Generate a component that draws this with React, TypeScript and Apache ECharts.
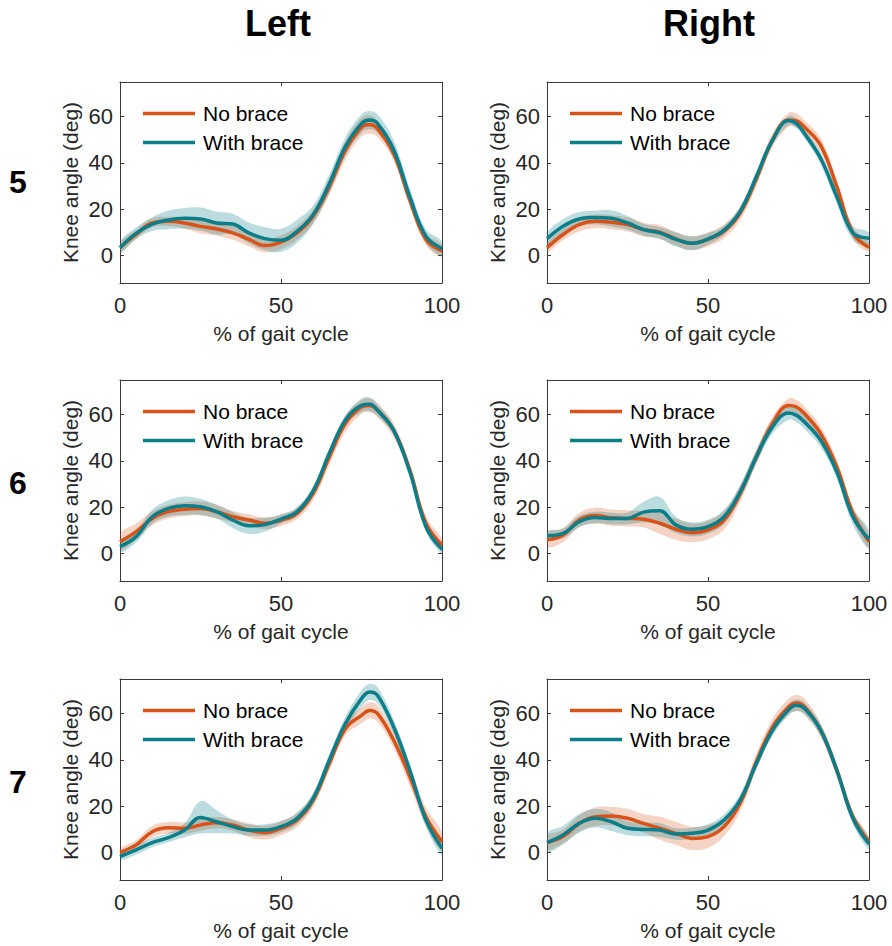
import React, { useEffect, useRef } from 'react';
import * as echarts from 'echarts';

// % of gait cycle sample points
const X = [0, 5, 10, 15, 20, 25, 30, 35, 40, 45, 50, 55, 60, 65, 70, 75, 77.5, 80, 85, 90, 95, 100];
const X_TICKS = [0, 50, 100];
const Y_TICKS = [0, 20, 40, 60];
const COLUMN_TITLES = ['Left', 'Right'];
const ROW_LABELS = ['5', '6', '7'];
const SERIES_NAMES = ['No brace', 'With brace'];

// Subject 5
const L5_NO = [3.3, 9, 14, 14.7, 14, 12.5, 11.4, 9.7, 6.9, 4.2, 5.7, 9.7, 16.9, 29.7, 45.4, 55.4, 56.6, 54.7, 44, 24, 6.9, 1.9];
const L5_NO_SD = [2, 2, 2, 2, 2.5, 3, 3, 3, 3, 3, 3, 3, 3, 3.5, 4, 4, 4, 3.5, 3, 3, 2.5, 2.5];
const L5_WB = [3.3, 9.5, 13.5, 15.3, 16, 15.7, 14, 13.5, 9.7, 7.2, 6.5, 10.4, 17.6, 31, 47, 57, 58.5, 57, 45.7, 25.4, 8.3, 2.9];
const L5_WB_SD = [2.5, 2.5, 3, 4, 4.5, 5, 5, 4.5, 4.5, 5, 5, 5, 4, 4, 4, 4, 4, 4, 4, 3.5, 3, 3];
const R5_NO = [3.3, 9, 13.3, 14.7, 14.3, 13.3, 11.1, 10, 7.1, 5.2, 6.9, 10.4, 18.3, 33, 49.7, 58.6, 58.3, 55.4, 47.6, 29.7, 9.7, 3.4];
const R5_NO_SD = [2, 2.5, 3, 3, 3, 3, 3, 3, 3, 3, 3, 3, 3, 3, 3, 3, 3, 3, 3, 3, 2.5, 2];
const R5_WB = [7.2, 12.6, 15.7, 16.3, 16, 14, 11.1, 9.7, 6.9, 5.2, 7.1, 10.9, 19, 34, 49.7, 58.3, 57, 52.6, 41.9, 25.4, 9.7, 7.4];
const R5_WB_SD = [2.5, 3, 3, 3, 3.5, 3, 2.5, 2.5, 3, 3, 2.5, 2, 2, 2, 2, 2, 2, 2, 2.5, 3, 3, 2.5];

// Subject 6
const L6_NO = [5, 9.4, 15.1, 18, 19.1, 19.4, 18, 15.8, 14.4, 13, 14.3, 17.3, 25.9, 41.7, 56.1, 63.3, 64, 61.9, 53.2, 36, 13, 3.6];
const L6_NO_SD = [3.5, 3.5, 3, 3, 3, 3, 3, 2.5, 2.5, 2.5, 2.5, 2.5, 3, 3.5, 3.5, 3, 3, 3, 3, 3, 3, 2.5];
const L6_WB = [2.9, 7.2, 15.8, 19.4, 20.6, 20.1, 18, 14.4, 11.9, 12.4, 14.8, 18, 27, 43.2, 57.6, 64, 64.5, 61.9, 53.2, 35.3, 11.5, 1.7];
const L6_WB_SD = [2.5, 2.5, 3, 3.5, 4, 3.5, 3, 3.5, 3.5, 3, 2, 2, 2, 2, 2, 3, 3, 2.5, 2, 2, 2, 2];
const R6_NO = [5.8, 7.9, 14.4, 16.3, 15.4, 15.1, 14.7, 13, 10.4, 8.9, 10.1, 14.4, 25.9, 41.7, 56.1, 64, 63.3, 60.4, 51.8, 37.4, 17.3, 5];
const R6_NO_SD = [3, 3, 3, 3.5, 3.5, 3.5, 3.5, 4.5, 4.5, 4, 4, 4, 3.5, 3, 3, 3, 3, 3, 3, 3, 3, 3];
const R6_WB = [7.6, 8.6, 13.7, 15.5, 15, 15.1, 17.8, 18.4, 12.3, 10.4, 11.5, 15.8, 26.6, 41.7, 54.7, 60.7, 59.7, 56.8, 48.9, 35.3, 15.8, 6];
const R6_WB_SD = [2, 2, 2.5, 2.5, 2.5, 2.5, 4.5, 6, 3.5, 3, 3, 3, 3, 3, 3, 3, 3, 3, 3, 3, 3.5, 4];

// Subject 7
const L7_NO = [0, 3.2, 8.9, 10.6, 10.4, 11.8, 12.8, 11.8, 9.6, 8.5, 10.4, 14, 22.6, 38.4, 53.5, 59.3, 61.4, 60, 48.5, 32.7, 15.4, 4.6];
const L7_NO_SD = [1.5, 2, 2.5, 2.5, 2.5, 2.5, 2.5, 2.5, 3, 3, 3, 3, 3, 3, 3, 3.5, 3.5, 3.5, 3.5, 4, 4, 4];
const L7_WB = [-1.9, 1, 4.2, 6.3, 9.5, 15.1, 13.2, 11.1, 9.6, 9.6, 11.1, 14.7, 23.3, 39.9, 55.7, 66.5, 69.4, 67.9, 54.2, 35.5, 14, 1.7];
const L7_WB_SD = [1.5, 2, 2, 2, 3, 7, 5, 3, 2.5, 2.5, 2.5, 2.5, 2.5, 2.5, 3, 3.5, 3.5, 3.5, 3, 3, 3, 3];
const R7_NO = [4.2, 6.8, 12.5, 15.4, 15.7, 14.7, 12.5, 10.4, 8.2, 6, 6.8, 11.1, 21.2, 39.1, 54.2, 62.9, 64.6, 62.9, 52.8, 35.5, 15.4, 4.6];
const R7_NO_SD = [3, 3, 3.5, 4, 4, 4, 4, 5, 5, 5, 5, 4, 3.5, 3.5, 3.5, 3.5, 3.5, 3.5, 3, 3, 2.5, 2];
const R7_WB = [4.2, 7.5, 12.5, 14.7, 13.2, 10.4, 9.9, 9.6, 7.9, 8.2, 9.6, 14, 22.6, 38.4, 52.8, 61.7, 63.6, 62.2, 52.8, 35.5, 14.7, 3.6];
const R7_WB_SD = [4, 4, 4, 4, 4, 3, 3, 3, 2.5, 2.5, 2.5, 2.5, 2.5, 2.5, 2.5, 2.5, 2.5, 2.5, 2.5, 2.5, 2.5, 2.5];

const PANELS = [
  { row: 0, col: 0, no: L5_NO, noSd: L5_NO_SD, wb: L5_WB, wbSd: L5_WB_SD },
  { row: 0, col: 1, no: R5_NO, noSd: R5_NO_SD, wb: R5_WB, wbSd: R5_WB_SD },
  { row: 1, col: 0, no: L6_NO, noSd: L6_NO_SD, wb: L6_WB, wbSd: L6_WB_SD },
  { row: 1, col: 1, no: R6_NO, noSd: R6_NO_SD, wb: R6_WB, wbSd: R6_WB_SD },
  { row: 2, col: 0, no: L7_NO, noSd: L7_NO_SD, wb: L7_WB, wbSd: L7_WB_SD },
  { row: 2, col: 1, no: R7_NO, noSd: R7_NO_SD, wb: R7_WB, wbSd: R7_WB_SD },
];

const FONT = '"Liberation Sans", Arial, Helvetica, sans-serif';
const ORANGE = '#D95319';
const TEAL = '#0B7E89';
const ORANGE_BAND = 'rgba(217,83,25,0.25)';
const TEAL_BAND = 'rgba(11,126,137,0.27)';
const AXIS_COLOR = '#3a3a3a';
const TEXT_COLOR = '#262626';
const SMOOTH = 0.4;

const GRID_LEFTS = [120, 547];
const GRID_TOPS = [82, 380, 679];
const GRID_W = 322;
const GRID_H = 201;
const COL_CENTERS = [278, 709];
const ROW_CENTERS = [182, 483, 782];

function bandSeries(i: number, mean: number[], sd: number[], fill: string, z: number) {
  const data = X.map((x, k) => [x, mean[k] - sd[k], mean[k] + sd[k]]);
  return {
    type: 'custom', xAxisIndex: i * 2, yAxisIndex: i * 2, silent: true, z,
    data,
    encode: { x: 0, y: [1, 2] },
    renderItem: (params: any, api: any) => {
      if (params.dataIndex !== 0) return null;
      const upper = data.map((d) => api.coord([d[0], d[2]]));
      const lower = data.map((d) => api.coord([d[0], d[1]])).reverse();
      const x0 = api.coord([X[0], 0])[0];
      const x1 = api.coord([X[X.length - 1], 0])[0];
      return {
        type: 'polygon',
        shape: {
          points: upper.concat(lower),
          smooth: SMOOTH,
          smoothConstraint: [[x0, -10000], [x1, 10000]],
        },
        style: { fill, stroke: 'none' },
      };
    },
  };
}

function buildOption() {
  const grid: any[] = [];
  const xAxis: any[] = [];
  const yAxis: any[] = [];
  const series: any[] = [];
  const legend: any[] = [];

  PANELS.forEach((p, i) => {
    const left = GRID_LEFTS[p.col];
    const top = GRID_TOPS[p.row];
    grid.push({ left, top, width: GRID_W, height: GRID_H, containLabel: false });

    const tickCommon = { show: true, inside: true, length: 4, lineStyle: { color: AXIS_COLOR, width: 1 } };
    const lineCommon = { show: true, onZero: false, lineStyle: { color: AXIS_COLOR, width: 1 } };

    xAxis.push({
      type: 'value', gridIndex: i, min: 0, max: 100, interval: 50, position: 'bottom',
      axisLine: lineCommon, axisTick: tickCommon, splitLine: { show: false },
      axisLabel: { show: true, fontSize: 22, color: TEXT_COLOR, fontFamily: FONT, margin: 11, customValues: X_TICKS },
      name: '% of gait cycle', nameLocation: 'middle', nameGap: 40,
      nameTextStyle: { fontSize: 21, color: TEXT_COLOR, fontFamily: FONT },
    });
    xAxis.push({
      type: 'value', gridIndex: i, min: 0, max: 100, interval: 50, position: 'top',
      axisLine: lineCommon, axisTick: tickCommon, splitLine: { show: false }, axisLabel: { show: false },
    });
    yAxis.push({
      type: 'value', gridIndex: i, min: -12, max: 75, position: 'left',
      axisLine: lineCommon,
      axisTick: { ...tickCommon, customValues: Y_TICKS },
      splitLine: { show: false },
      axisLabel: { show: true, fontSize: 22, color: TEXT_COLOR, fontFamily: FONT, margin: 7, customValues: Y_TICKS },
      name: 'Knee angle (deg)', nameLocation: 'middle', nameGap: 39, nameRotate: 90,
      nameTextStyle: { fontSize: 21, color: TEXT_COLOR, fontFamily: FONT },
    });
    yAxis.push({
      type: 'value', gridIndex: i, min: -12, max: 75, position: 'right',
      axisLine: lineCommon,
      axisTick: { ...tickCommon, customValues: Y_TICKS },
      splitLine: { show: false }, axisLabel: { show: false },
    });

    const groups = [
      { name: SERIES_NAMES[0], mean: p.no, sd: p.noSd, color: ORANGE, band: ORANGE_BAND },
      { name: SERIES_NAMES[1], mean: p.wb, sd: p.wbSd, color: TEAL, band: TEAL_BAND },
    ];
    groups.forEach((g, j) => {
      series.push(bandSeries(i, g.mean, g.sd, g.band, 1 + j));
    });
    groups.forEach((g, j) => {
      series.push({
        type: 'line', name: g.name, xAxisIndex: i * 2, yAxisIndex: i * 2,
        data: g.mean.map((m, k) => [X[k], m]),
        symbol: 'none', smooth: SMOOTH, color: g.color,
        lineStyle: { color: g.color, width: 3.5 }, z: 5 + j,
      });
    });

    legend.push({
      data: SERIES_NAMES, orient: 'vertical', left: left + 23, top: top + 21,
      itemGap: 8, itemWidth: 52, itemHeight: 3.5, icon: 'rect', padding: 0,
      selectedMode: false,
      textStyle: { fontSize: 21, color: '#000', fontFamily: FONT, padding: [0, 0, 0, 3] },
    });
  });

  const graphic: any[] = [];
  COLUMN_TITLES.forEach((t, c) => {
    graphic.push({
      type: 'text', x: COL_CENTERS[c], y: 23,
      style: { text: t, fontSize: 36, fontWeight: 'bold', fontFamily: FONT, fill: '#000', align: 'center', verticalAlign: 'middle' },
    });
  });
  ROW_LABELS.forEach((t, r) => {
    graphic.push({
      type: 'text', x: 18, y: ROW_CENTERS[r],
      style: { text: t, fontSize: 32, fontWeight: 'bold', fontFamily: FONT, fill: '#000', align: 'center', verticalAlign: 'middle' },
    });
  });

  return {
    animation: false,
    backgroundColor: '#ffffff',
    grid, xAxis, yAxis, series, legend, graphic,
  };
}

export default function App() {
  const ref = useRef<HTMLDivElement | null>(null);
  useEffect(() => {
    document.body.style.margin = '0';
    if (!ref.current) return;
    const chart = echarts.init(ref.current, undefined, { renderer: 'svg' });
    chart.setOption(buildOption());
    return () => chart.dispose();
  }, []);
  return <div ref={ref} style={{ width: 892, height: 946 }} />;
}
